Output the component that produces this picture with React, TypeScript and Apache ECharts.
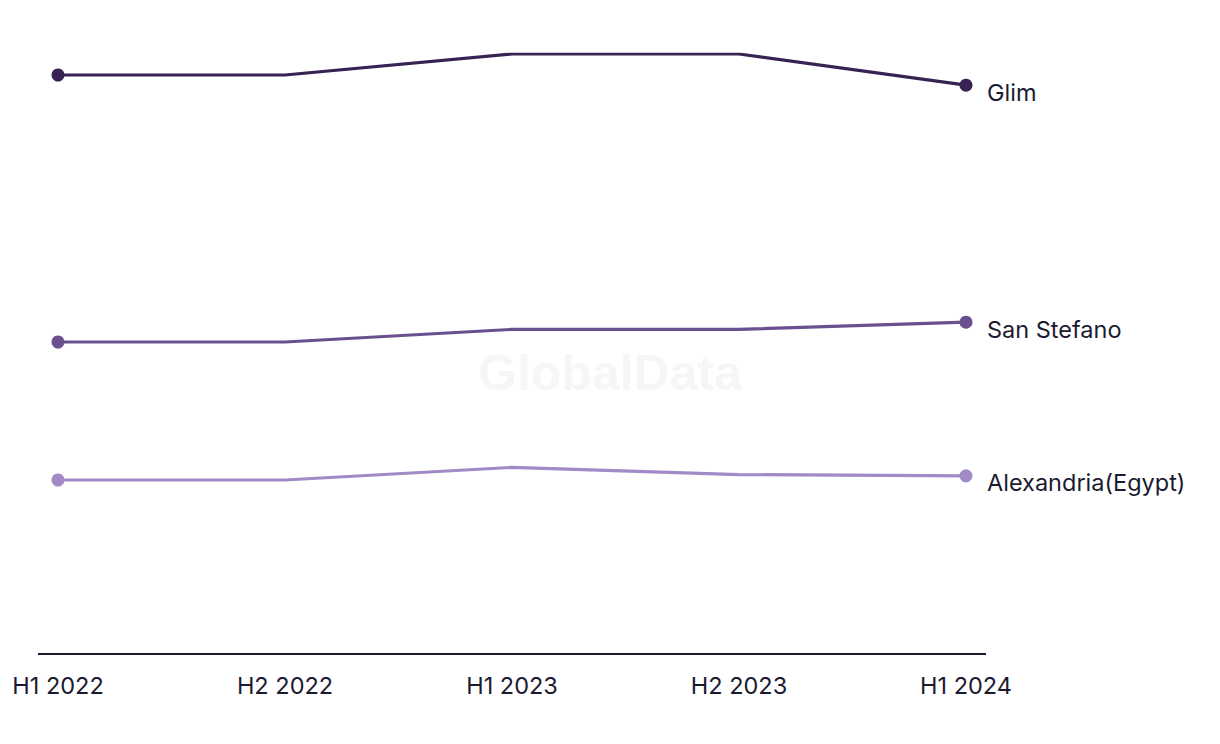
import React, { useEffect, useRef } from "react";
import * as echarts from "echarts";

const categories = ["H1 2022", "H2 2022", "H1 2023", "H2 2023", "H1 2024"];
const glim = [96.5, 96.5, 100, 100, 94.8];
const sanStefano = [52.0, 52.0, 54.1, 54.1, 55.3];
const alexandria = [29.0, 29.0, 31.1, 29.9, 29.7];

const seriesNames = ["Glim", "San Stefano", "Alexandria(Egypt)"];
const seriesData = [glim, sanStefano, alexandria];
const colors = ["#372253", "#6a508f", "#a18ac6"];

const TEXT = "#1b1b2f";
const FONT = "Inter, 'Noto Sans', sans-serif";

export default function App() {
  const ref = useRef<HTMLDivElement>(null);
  useEffect(() => {
    if (!ref.current) return;
    const chart = echarts.init(ref.current, null, { renderer: "svg" });
    chart.setOption({
      animation: false,
      backgroundColor: "#ffffff",
      grid: { left: 58, right: 254, top: 54, bottom: 90, containLabel: false },
      xAxis: {
        type: "category",
        data: categories,
        boundaryGap: false,
        axisLine: { show: false },
        axisTick: { show: false },
        splitLine: { show: false },
        axisLabel: { fontSize: 23.5, color: TEXT, fontFamily: FONT, margin: 19 },
      },
      yAxis: {
        type: "value",
        min: 0,
        max: 100,
        show: false,
        splitLine: { show: false },
      },
      graphic: [
        {
          type: "line",
          shape: { x1: 38, y1: 654, x2: 986, y2: 654 },
          style: { stroke: TEXT, lineWidth: 2 },
          z: 1,
        },
        {
          type: "text",
          x: 610,
          y: 373,
          style: {
            text: "GlobalData",
            fontSize: 50,
            fontWeight: "bold",
            fontFamily: "Arial, 'Liberation Sans', sans-serif",
            fill: "#f6f6f6",
            align: "center",
            verticalAlign: "middle",
          },
          z: 0,
        },
      ],
      series: seriesNames.map((name, i) => ({
        name,
        type: "line",
        data: seriesData[i].map((v: number, j: number) => ({
          value: v,
          symbolSize: j === 0 || j === seriesData[i].length - 1 ? 13 : 0,
        })),
        showSymbol: true,
        symbol: "circle",
        lineStyle: { color: colors[i], width: 3.2 },
        itemStyle: { color: colors[i] },
        z: 3,
        endLabel: {
          show: true,
          formatter: name,
          color: TEXT,
          fontSize: 23.5,
          fontFamily: FONT,
          distance: 21,
          offset: [0, 7],
        },
      })),
    });
    return () => chart.dispose();
  }, []);
  return (
    <div
      ref={ref}
      style={{ position: "fixed", left: 0, top: 0, width: 1220, height: 744 }}
    />
  );
}
